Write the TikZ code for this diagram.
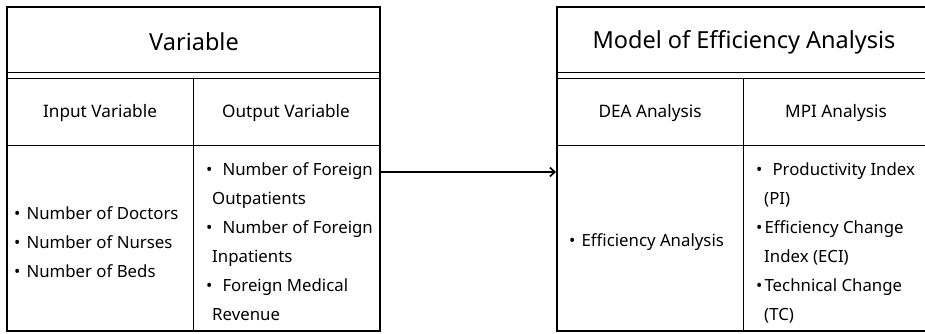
\documentclass[tikz,border=0pt]{standalone}
\usepackage{fontspec}
\setmainfont{Noto Sans}
\usetikzlibrary{arrows.meta}
\begin{document}
\begin{tikzpicture}[x=1pt,y=-1pt,
  tabbox/.style={draw, line width=2pt, minimum width=#1, minimum height=324pt, inner sep=0pt},
  rule/.style={line width=0.9pt},
  titletext/.style={font=\fontsize{23.5}{27}\selectfont, inner sep=0pt},
  headtext/.style={font=\fontsize{17.2}{20}\selectfont, inner sep=0pt},
  celltext/.style={font=\fontsize{16.8}{29}\selectfont, inner sep=0pt, anchor=west, align=left},
  flow/.style={line width=1.6pt, -{Straight Barb[length=5pt,width=9pt]}}
]
\useasboundingbox (0,0) rectangle (925,333);
\clip (0,0) rectangle (925,333);

% left table
\node[tabbox=373pt] (lefttab) at (193.5,169) {};
\draw[rule] (7,72) -- (380,72);
\draw[rule] (7,78) -- (380,78);
\draw[rule] (7,145) -- (380,145);
\draw[rule] (193,78) -- (193,331);
\node[titletext] (vartitle) at (194,42) {Variable};
\node[headtext] (inhead) at (100,113) {Input Variable};
\node[headtext] (outhead) at (286,113) {Output Variable};
\node[celltext] (inlist) at (14,242) {•\hspace{6pt}Number of Doctors\\•\hspace{6pt}Number of Nurses\\•\hspace{6pt}Number of Beds};
\node[celltext] (outlist) at (206,242) {•\hspace{10pt}Number of Foreign\\\hspace*{6pt}Outpatients\\•\hspace{10pt}Number of Foreign\\\hspace*{6pt}Inpatients\\•\hspace{10pt}Foreign Medical\\\hspace*{6pt}Revenue};

% right table
\node[tabbox=372pt] (righttab) at (743,169) {};
\draw[rule] (557,72) -- (929,72);
\draw[rule] (557,78) -- (929,78);
\draw[rule] (557,145) -- (929,145);
\draw[rule] (743,78) -- (743,331);
\node[titletext] (modtitle) at (744,42) {Model of Efficiency Analysis};
\node[headtext] (deahead) at (650,113) {DEA Analysis};
\node[headtext] (mpihead) at (836,113) {MPI Analysis};
\node[celltext] (dealist) at (569,242) {•\hspace{6pt}Efficiency Analysis};
\node[celltext] (mpilist) at (756,243) {•\hspace{10pt}Productivity Index\\\hspace*{8pt}(PI)\\•\hspace{2pt}Efficiency Change\\\hspace*{8pt}Index (ECI)\\•\hspace{2pt}Technical Change\\\hspace*{8pt}(TC)};

% connector
\draw[flow] ([yshift=-3pt]lefttab.east) -- ([yshift=-3pt]righttab.west);
\end{tikzpicture}
\end{document}
